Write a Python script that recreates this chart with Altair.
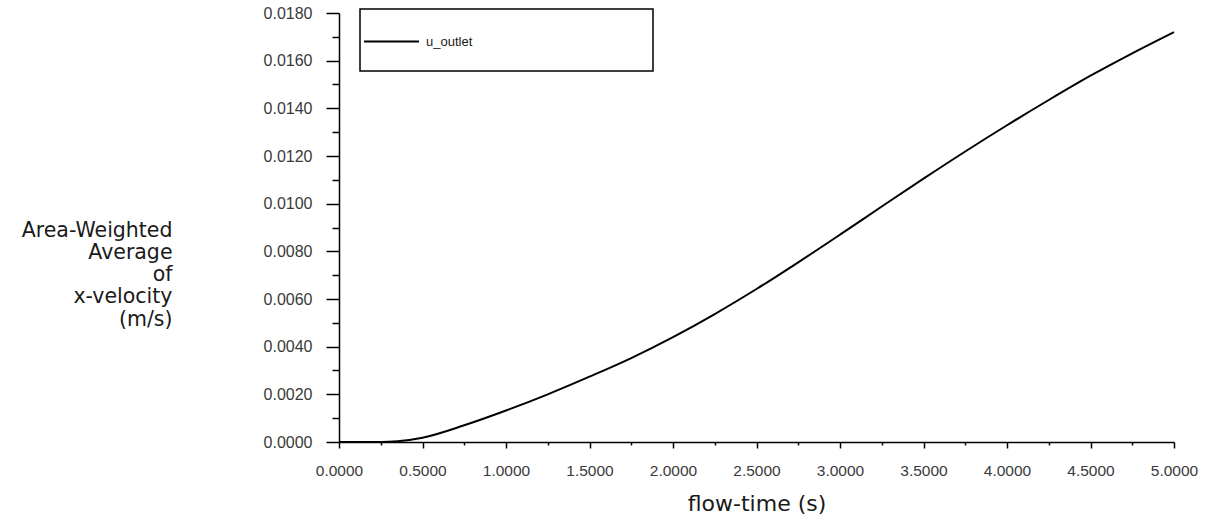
import altair as alt
import pandas as pd

# Data
flow_time = [0.0, 0.25, 0.35, 0.5, 0.75, 1.0, 1.25, 1.5, 1.75, 2.0, 2.25, 2.5,
             2.75, 3.0, 3.25, 3.5, 3.75, 4.0, 4.25, 4.5, 4.75, 5.0]
u_outlet = [0.0, 0.0, 0.00003, 0.00018, 0.0007, 0.00132, 0.0020, 0.00274, 0.00352,
            0.0044, 0.00537, 0.00642, 0.00754, 0.0087, 0.00988, 0.01105, 0.01219,
            0.01329, 0.01435, 0.01537, 0.01631, 0.0172]
series_name = "u_outlet"

x_major = [0.0, 0.5, 1.0, 1.5, 2.0, 2.5, 3.0, 3.5, 4.0, 4.5, 5.0]
x_minor = [0.25, 0.75, 1.25, 1.75, 2.25, 2.75, 3.25, 3.75, 4.25, 4.75]
y_major = [0.0, 0.002, 0.004, 0.006, 0.008, 0.010, 0.012, 0.014, 0.016, 0.018]
y_minor = [0.001, 0.003, 0.005, 0.007, 0.009, 0.011, 0.013, 0.015, 0.017]

y_title = ["Area-Weighted", "Average", "of", "x-velocity", "(m/s)"]
x_title = "flow-time (s)"

df = pd.DataFrame({"t": flow_time, "v": u_outlet, "series": series_name})

FONT = "Liberation Sans"
TFONT = "DejaVu Sans"
xs = alt.Scale(domain=[0, 5], nice=False, zero=False)
ys = alt.Scale(domain=[0, 0.018], nice=False)

line = alt.Chart(df).mark_line(strokeWidth=2, interpolate="monotone").encode(
    x=alt.X("t:Q", scale=xs, axis=alt.Axis(
        values=x_major, format=".4f", grid=False, orient="bottom",
        tickSize=6, tickColor="black", tickWidth=1.5,
        domainColor="black", domainWidth=1.5,
        labelFont=FONT, labelFontSize=15.5, labelColor="#3a3a3a", labelPadding=15,
        labelFlush=False,
        title=x_title, titleFont=TFONT, titleFontSize=22, titleFontWeight="normal",
        titleColor="#1a1a1a", titleBaseline="alphabetic", titleY=68)),
    y=alt.Y("v:Q", scale=ys, axis=alt.Axis(
        values=y_major, format=".4f", grid=False, orient="left",
        tickSize=13, tickColor="black", tickWidth=1.5,
        domainColor="black", domainWidth=1.5,
        labelFont=FONT, labelFontSize=16, labelColor="#3a3a3a", labelPadding=14,
        labelFlush=False,
        title=y_title, titleFont=TFONT, titleFontSize=20.5, titleFontWeight="normal",
        titleColor="#1a1a1a", titleAngle=0, titleAlign="right",
        titleBaseline="top", titleX=-167, titleY=207, titleLineHeight=22.3)),
    color=alt.Color("series:N", scale=alt.Scale(range=["black"]), legend=alt.Legend(
        orient="none", legendX=24, legendY=0, title=None, padding=0,
        symbolType="stroke", symbolSize=3025, symbolStrokeWidth=2,
        labelFont=FONT, labelFontSize=13, labelColor="#1a1a1a", labelOffset=6)),
)

minor = alt.Chart(df).mark_line(opacity=0).encode(
    x=alt.X("t:Q", scale=xs, axis=alt.Axis(
        values=x_minor, labels=False, grid=False, domain=False, orient="bottom",
        tickSize=3, tickColor="black", tickWidth=1.5, title=None)),
    y=alt.Y("v:Q", scale=ys, axis=alt.Axis(
        values=y_minor, labels=False, grid=False, domain=False, orient="left",
        tickSize=7, tickColor="black", tickWidth=1.5, title=None)),
)

frame = alt.Chart(pd.DataFrame({"k": [0]})).mark_rect(
    fill=None, stroke="black", strokeWidth=1.5
).encode(
    x=alt.value(21), x2=alt.value(314), y=alt.value(-4), y2=alt.value(58)
)

chart = alt.layer(frame, line, minor).resolve_axis(
    x="independent", y="independent"
).properties(
    width=835, height=429,
    autosize=alt.AutoSizeParams(type="none"),
    padding={"left": 339, "top": 13, "right": 35, "bottom": 79},
    background="white",
).configure_view(strokeWidth=0)

chart.save("out.html", embed_options={"renderer": "svg", "actions": False})
